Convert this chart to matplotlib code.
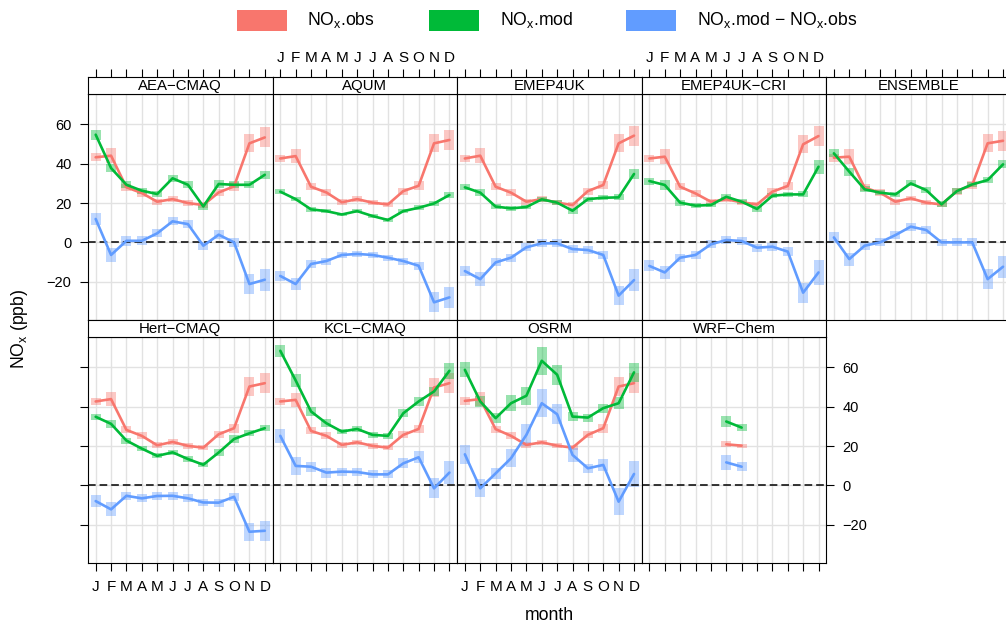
import numpy as np
import matplotlib
matplotlib.use('Agg')
import matplotlib.pyplot as plt
from matplotlib.patches import Rectangle

plt.rcParams['font.family'] = ['Liberation Sans', 'DejaVu Sans']
plt.rcParams['mathtext.fontset'] = 'custom'
plt.rcParams['mathtext.rm'] = 'Liberation Sans'
plt.rcParams['mathtext.it'] = 'Liberation Sans'

# ---------------- data ----------------
months = list(range(1, 13))
month_labels = ['J', 'F', 'M', 'A', 'M', 'J', 'J', 'A', 'S', 'O', 'N', 'D']
models = ['AEA\u2212CMAQ', 'AQUM', 'EMEP4UK', 'EMEP4UK\u2212CRI', 'ENSEMBLE',
          'Hert\u2212CMAQ', 'KCL\u2212CMAQ', 'OSRM', 'WRF\u2212Chem']
series_labels = ['NO$_\\mathrm{x}$.obs', 'NO$_\\mathrm{x}$.mod',
                 'NO$_\\mathrm{x}$.mod \u2212 NO$_\\mathrm{x}$.obs']
nan = np.nan

obs_mean = {
    'AEA\u2212CMAQ':    [43.3, 44.1, 28.0, 25.1, 20.7, 22.0, 20.0, 19.0, 25.4, 28.5, 50.4, 53.4],
    'AQUM':             [42.7, 43.9, 28.3, 25.4, 20.4, 22.0, 20.2, 19.3, 26.1, 28.8, 50.4, 52.1],
    'EMEP4UK':          [42.7, 44.1, 28.3, 25.3, 20.7, 22.0, 20.2, 19.0, 26.1, 29.2, 50.4, 54.3],
    'EMEP4UK\u2212CRI': [42.7, 43.6, 28.3, 24.9, 20.7, 21.9, 20.4, 19.3, 25.8, 28.7, 49.9, 54.1],
    'ENSEMBLE':         [43.1, 43.6, 27.8, 25.3, 20.7, 22.4, 20.2, 19.3, 26.1, 29.2, 50.4, 51.7],
    'Hert\u2212CMAQ':   [42.7, 43.9, 28.2, 25.2, 20.4, 22.1, 20.1, 19.2, 26.0, 29.1, 50.3, 52.0],
    'KCL\u2212CMAQ':    [42.7, 43.5, 27.7, 25.2, 20.6, 21.9, 20.1, 19.2, 25.7, 28.7, 49.8, 52.0],
    'OSRM':             [43.0, 43.9, 28.6, 25.2, 20.6, 21.9, 20.2, 19.2, 25.7, 29.1, 50.3, 52.0],
    'WRF\u2212Chem':    [nan, nan, nan, nan, nan, 20.9, 20.2, nan, nan, nan, nan, nan],
}
mod_mean = {
    'AEA\u2212CMAQ':    [54.8, 37.8, 29.3, 26.3, 24.6, 32.6, 29.3, 18.3, 29.7, 29.3, 29.3, 34.4],
    'AQUM':             [25.8, 22.0, 16.8, 15.9, 14.2, 15.9, 13.4, 11.4, 15.9, 17.6, 19.8, 24.1],
    'EMEP4UK':          [28.0, 25.3, 18.2, 17.3, 18.0, 21.9, 20.2, 16.1, 22.0, 22.7, 22.9, 34.8],
    'EMEP4UK\u2212CRI': [31.2, 29.2, 20.2, 18.7, 19.0, 23.2, 20.7, 17.0, 23.7, 24.4, 24.4, 38.5],
    'ENSEMBLE':         [45.3, 36.0, 27.0, 25.3, 24.4, 30.0, 26.6, 19.3, 26.1, 29.5, 31.7, 39.7],
    'Hert\u2212CMAQ':   [34.9, 31.3, 22.8, 18.7, 15.0, 16.8, 13.4, 10.5, 16.7, 23.6, 26.5, 29.1],
    'KCL\u2212CMAQ':    [68.5, 53.4, 37.6, 31.6, 27.4, 28.7, 25.7, 25.2, 36.7, 42.7, 47.8, 58.3],
    'OSRM':             [58.8, 42.7, 34.2, 41.8, 45.6, 63.4, 56.3, 35.0, 34.5, 39.3, 41.8, 57.5],
    'WRF\u2212Chem':    [nan, nan, nan, nan, nan, 32.5, 29.4, nan, nan, nan, nan, nan],
}
diff_mean = {
    'AEA\u2212CMAQ':    [11.9, -6.4, 0.8, 0.8, 4.6, 10.7, 9.3, -1.7, 3.9, 0.0, -21.2, -19.0],
    'AQUM':             [-17.1, -21.2, -11.0, -9.5, -6.4, -5.9, -6.4, -7.8, -9.5, -11.9, -30.5, -28.0],
    'EMEP4UK':          [-14.6, -18.7, -10.2, -7.8, -2.5, -0.5, -0.5, -3.4, -3.9, -6.4, -27.1, -19.2],
    'EMEP4UK\u2212CRI': [-12.0, -15.3, -7.8, -6.4, -1.0, 1.2, 0.7, -2.7, -2.2, -4.7, -25.6, -15.3],
    'ENSEMBLE':         [2.5, -8.5, -1.7, 0.0, 3.7, 8.0, 6.3, 0.0, 0.0, 0.0, -18.7, -12.4],
    'Hert\u2212CMAQ':   [-8.0, -12.2, -5.3, -6.6, -5.4, -5.3, -6.6, -8.7, -8.8, -5.8, -23.6, -23.1],
    'KCL\u2212CMAQ':    [25.2, 9.9, 9.5, 6.5, 7.0, 6.8, 5.6, 5.6, 11.2, 14.3, -1.5, 6.5],
    'OSRM':             [15.8, -1.5, 6.1, 13.8, 25.7, 41.8, 36.2, 15.5, 8.7, 10.4, -8.3, 5.8],
    'WRF\u2212Chem':    [nan, nan, nan, nan, nan, 11.7, 9.5, nan, nan, nan, nan, nan],
}
# half-widths of the shaded uncertainty boxes
obs_ci = {
    'default':          [2.0, 3.7, 1.8, 1.8, 1.6, 1.4, 1.4, 1.4, 1.8, 2.2, 4.6, 5.1],
    'WRF\u2212Chem':    [nan, nan, nan, nan, nan, 1.5, 1.0, nan, nan, nan, nan, nan],
}
mod_ci = {
    'AEA\u2212CMAQ':    [2.5, 2.0, 1.7, 1.5, 1.5, 1.8, 1.8, 1.7, 1.8, 1.7, 1.7, 2.0],
    'AQUM':             [1.2, 1.2, 1.2, 1.0, 1.0, 1.0, 1.0, 1.0, 1.2, 1.2, 1.2, 1.5],
    'EMEP4UK':          [1.5, 1.7, 1.3, 1.2, 1.2, 1.3, 1.3, 1.5, 1.3, 1.3, 1.5, 2.5],
    'EMEP4UK\u2212CRI': [1.8, 2.3, 1.5, 1.2, 1.2, 1.5, 1.3, 1.5, 1.3, 1.3, 1.5, 3.5],
    'ENSEMBLE':         [2.0, 2.0, 1.5, 1.3, 1.3, 1.5, 1.5, 1.5, 1.5, 1.3, 1.5, 2.0],
    'Hert\u2212CMAQ':   [1.5, 2.0, 1.5, 1.3, 1.3, 1.3, 1.3, 1.3, 1.8, 1.8, 1.5, 1.5],
    'KCL\u2212CMAQ':    [3.0, 3.5, 2.2, 2.0, 1.5, 1.5, 1.5, 1.5, 2.0, 2.5, 2.5, 4.0],
    'OSRM':             [3.8, 2.7, 2.4, 4.2, 4.5, 7.0, 5.0, 2.4, 2.0, 2.3, 3.0, 5.0],
    'WRF\u2212Chem':    [nan, nan, nan, nan, nan, 2.7, 1.7, nan, nan, nan, nan, nan],
}
diff_ci = {
    'AEA\u2212CMAQ':    [3.2, 3.6, 2.5, 2.2, 2.0, 2.0, 2.0, 2.0, 2.3, 2.3, 5.3, 5.5],
    'AQUM':             [2.7, 3.0, 2.0, 1.8, 1.5, 1.5, 1.5, 1.5, 1.8, 2.0, 5.0, 5.4],
    'EMEP4UK':          [2.7, 3.5, 2.0, 2.0, 2.0, 2.0, 2.0, 2.0, 2.0, 2.2, 5.0, 5.6],
    'EMEP4UK\u2212CRI': [2.8, 3.5, 2.0, 2.0, 2.0, 2.0, 2.0, 2.0, 2.0, 2.2, 5.0, 6.5],
    'ENSEMBLE':         [3.0, 3.3, 2.0, 2.0, 2.0, 2.0, 2.0, 1.8, 2.0, 2.0, 5.0, 5.5],
    'Hert\u2212CMAQ':   [3.0, 3.5, 2.0, 2.0, 2.0, 2.0, 2.0, 1.8, 2.0, 2.0, 4.5, 5.2],
    'KCL\u2212CMAQ':    [3.5, 4.5, 2.5, 2.5, 2.0, 2.0, 2.0, 2.0, 2.5, 3.0, 5.0, 5.7],
    'OSRM':             [4.8, 4.5, 2.8, 4.5, 5.7, 7.0, 5.0, 3.4, 2.4, 3.2, 7.0, 6.4],
    'WRF\u2212Chem':    [nan, nan, nan, nan, nan, 3.7, 2.2, nan, nan, nan, nan, nan],
}
y_ticks = [-20, 0, 20, 40, 60]

# ---------------- styling ----------------
colors = ['#F8766D', '#00BA38', '#619CFF']
W, H = 1006, 626
fig = plt.figure(figsize=(W / 100, H / 100), dpi=100)


def add_px(x0, y0, x1, y1):
    return fig.add_axes([x0 / W, 1 - y1 / H, (x1 - x0) / W, (y1 - y0) / H])


col_x = [88.0, 272.6, 457.2, 641.7, 826.2]
pw = 184.5
strip_top = [77.0, 320.0]
panel_top = [94.0, 337.0]
panel_bot = [320.0, 563.0]
tick_len = 6.0
bw = 0.65

for i, name in enumerate(models):
    row, col = divmod(i, 5)
    x0 = col_x[col]
    ax = add_px(x0, panel_top[row], x0 + pw, panel_bot[row])
    ax.set_xlim(0.5, 12.5)
    ax.set_ylim(-39.5, 75.5)
    ax.set_xticks(months)
    ax.set_xticklabels(month_labels)
    ax.set_yticks(y_ticks)
    ax.set_yticklabels([str(v).replace('-', '\u2212') for v in y_ticks])
    ax.grid(True, color='#e2e2e2', lw=1.0)
    ax.set_axisbelow(True)
    ax.axhline(0, color='black', lw=1.1, ls=(0, (5.0, 2.6)), zorder=3)

    oc = obs_ci.get(name, obs_ci['default'])
    sets = [(obs_mean[name], oc), (mod_mean[name], mod_ci[name]), (diff_mean[name], diff_ci[name])]
    for (m, c), colr in zip(sets, colors):
        m = np.array(m, float)
        c = np.array(c, float)
        ok = ~np.isnan(m)
        mx = np.array(months)[ok]
        ax.bar(mx, 2 * c[ok], bottom=m[ok] - c[ok], width=bw, color=colr,
               alpha=0.4, linewidth=0, zorder=2)
    for (m, c), colr in zip(sets, colors):
        ax.plot(months, m, color=colr, lw=1.9, zorder=4, solid_capstyle='round')

    ax.tick_params(axis='x', which='both', top=False, labeltop=False,
                   bottom=(row == 1), labelbottom=(row == 1 and col in (0, 2)),
                   direction='out', length=tick_len, width=0.8, pad=6.0,
                   labelsize=11)
    right = (row == 0 and col == 4) or (row == 1 and col == 3)
    ax.tick_params(axis='y', which='both', left=(col == 0),
                   labelleft=(row == 0 and col == 0), right=right,
                   labelright=(row == 1 and col == 3), direction='out',
                   length=tick_len, width=0.8, pad=5.8, labelsize=10.5)
    for s in ax.spines.values():
        s.set_color('black')
        s.set_linewidth(0.8)

    # strip
    sax = add_px(x0, strip_top[row], x0 + pw, panel_top[row])
    sax.set_xlim(0.5, 12.5)
    sax.set_ylim(0, 1)
    sax.set_yticks([])
    sax.set_xticks(months)
    sax.set_xticklabels(month_labels)
    sax.tick_params(axis='x', bottom=False, labelbottom=False, top=(row == 0),
                    labeltop=(row == 0 and col in (1, 3)), direction='out',
                    length=tick_len, width=0.8, pad=2.5, labelsize=11)
    for s in sax.spines.values():
        s.set_color('black')
        s.set_linewidth(0.8)
    sax.text(0.5, 0.45, name, transform=sax.transAxes, ha='center', va='center',
             fontsize=10.8)

# axis titles
fig.text(549 / W, 1 - 615 / H, 'month', ha='center', va='center', fontsize=12.7)
fig.text(20 / W, 1 - 329 / H, 'NO$_\\mathrm{x}$ (ppb)', ha='center', va='center',
         rotation=90, fontsize=12.7)

# legend
leg_rect_x = [237, 429, 626]
leg_text_x = [307, 500, 697]
for rx, tx, colr, lab in zip(leg_rect_x, leg_text_x, colors, series_labels):
    fig.patches.append(Rectangle((rx / W, 1 - 31 / H), 50 / W, 21 / H,
                                 transform=fig.transFigure, color=colr, lw=0))
    fig.text(tx / W, 1 - 20 / H, lab, ha='left', va='center', fontsize=12.7)

fig.savefig('out.png', dpi=100)
